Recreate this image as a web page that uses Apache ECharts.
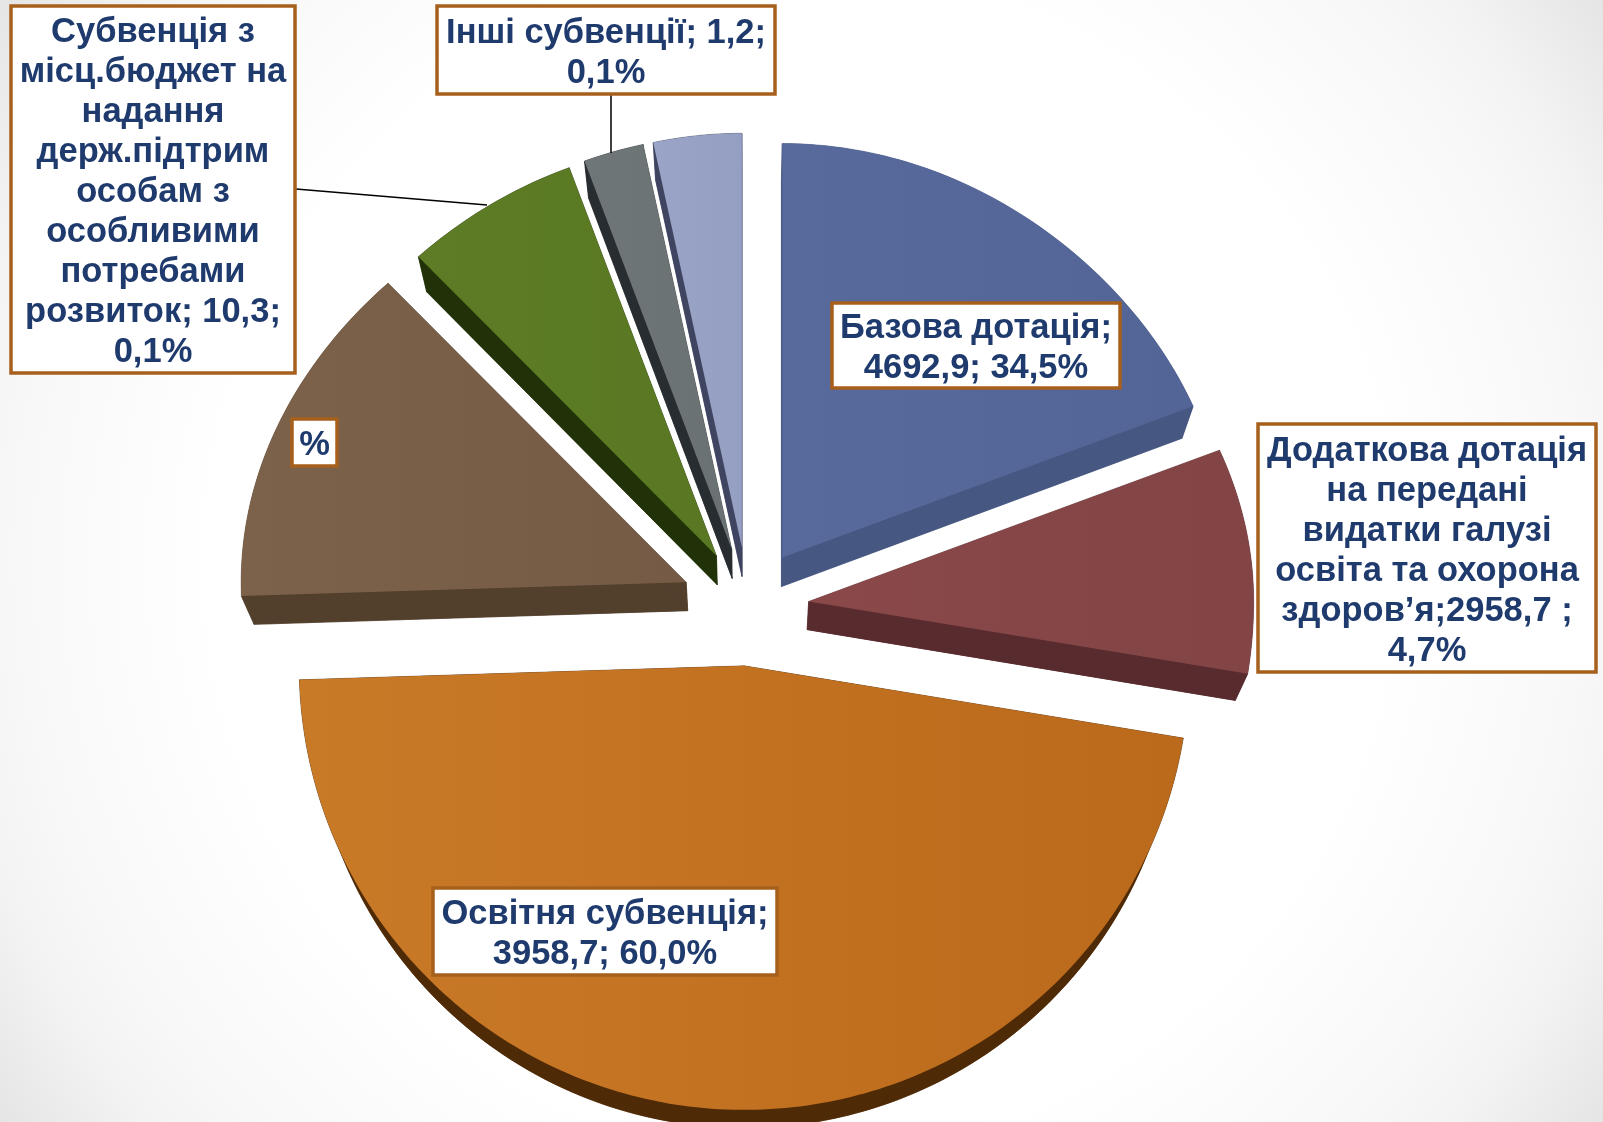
<!DOCTYPE html>
<html>
<head>
<meta charset="utf-8">
<title>Chart</title>
<style>
html, body { margin: 0; padding: 0; background: #fff; }
#chart { width: 1603px; height: 1122px; }
</style>
<script src="https://cdn.jsdelivr.net/npm/echarts@6/dist/echarts.min.js"></script>
</head>
<body>
<div id="chart"></div>
<script>
// slice sizes as drawn in the picture (they do not agree with the printed percents)
// the brown slice only has a "%" label and the light blue one has none
var categories = ['Базова дотація', 'Додаткова дотація', 'Освітня субвенція', '%', 'Субвенція з місц.бюджет', 'Інші субвенції', ''];
var sliceValues = [19.0, 8.6, 46.9, 13.6, 6.5, 2.2, 3.2];

var labelTexts = [
    'Субвенція з\nмісц.бюджет на\nнадання\nдерж.підтрим\nособам з\nособливими\nпотребами\nрозвиток; 10,3;\n0,1%',
    'Інші субвенції; 1,2;\n0,1%',
    'Базова дотація;\n4692,9; 34,5%',
    'Додаткова дотація\nна передані\nвидатки галузі\nосвіта та охорона\nздоров’я;2958,7 ;\n4,7%',
    'Освітня субвенція;\n3958,7; 60,0%',
    '%'
];

// layout, kept apart from the values
var labelBoxes = [
    [11, 6, 284, 367],
    [437, 6, 338, 88],
    [832, 303, 288, 85],
    [1258, 424, 338, 248],
    [433, 888, 344, 87],
    [292, 419, 45, 47]
];
var leaderLines = [
    [296, 189, 487, 205],
    [611, 95, 611, 153]
];
var topColors = [
    ['#586A9C', '#536496'], ['#8A4849', '#824445'], ['#C97A27', '#BB691B'], ['#7C624A', '#755B45'],
    ['#5D7C25', '#5A7823'], ['#6F7678', '#6A7173'], ['#9AA4C7', '#959FC2']
];
var sideColors = ['#465781', '#582B2E', '#4F2A07', '#523F2C', '#223208', '#282D31', '#3F4560'];

var pieX = 748, pieY = 608;      // point the slices are pulled away from
var explode = [61, 61, 58, 67, 61, 61, 61];
var rx = 445, ryUp = 414, ryDown = 444;
var depth = 28;

function rimPoint(t, ax, ay) {
    var c = Math.cos(t), s = Math.sin(t);
    // the far half of the rim is a little flatter than an ellipse
    var f = c > 0 ? 1 - 0.015 * Math.pow(Math.sin(2 * t), 2) : 1;
    return [ax + f * rx * s, ay - f * (c > 0 ? ryUp : ryDown) * c];
}

// pie bottom face: a bit smaller and lower, the picture has some perspective
function lower(p) {
    return [p[0] + 0.025 * (pieX - p[0]), p[1] + depth + 0.02 * (pieY - p[1])];
}

function renderSlice(params, api) {
    var i = params.dataIndex;
    var total = sliceValues.reduce(function (a, b) { return a + b; }, 0);
    var before = 0;
    for (var k = 0; k < i; k++) before += sliceValues[k];
    var t0 = before / total * Math.PI * 2;
    var t1 = (before + api.value(0)) / total * Math.PI * 2;
    var mid = (t0 + t1) / 2;
    var ax = pieX + explode[i] * Math.sin(mid);
    var ay = pieY - explode[i] * Math.cos(mid);

    var arc = [];
    var steps = Math.max(8, Math.round((t1 - t0) * 60));
    for (var s = 0; s <= steps; s++) {
        arc.push(rimPoint(t0 + (t1 - t0) * s / steps, ax, ay));
    }
    var apex = [ax, ay];
    var top = [apex].concat(arc);
    var bottom = top.map(lower);
    var arcLow = arc.map(lower).reverse();
    var apexLow = lower(apex);
    var side = { fill: sideColors[i], stroke: sideColors[i], lineWidth: 0.5 };

    var first = arc[0], last = arc[arc.length - 1];
    return {
        type: 'group',
        children: [
            { type: 'polygon', shape: { points: bottom }, style: side },
            { type: 'polygon', shape: { points: arc.concat(arcLow) }, style: side },
            { type: 'polygon', shape: { points: [apex, first, lower(first), apexLow] }, style: side },
            { type: 'polygon', shape: { points: [apex, last, lower(last), apexLow] }, style: side },
            {
                type: 'polygon',
                shape: { points: top },
                style: {
                    fill: new echarts.graphic.LinearGradient(0, 0, 1, 0, [
                        { offset: 0, color: topColors[i][0] },
                        { offset: 1, color: topColors[i][1] }
                    ])
                }
            }
        ]
    };
}

var elements = [];
leaderLines.forEach(function (l) {
    elements.push({
        type: 'line',
        z: 10,
        shape: { x1: l[0], y1: l[1], x2: l[2], y2: l[3] },
        style: { stroke: '#000', lineWidth: 1.5 }
    });
});
labelBoxes.forEach(function (b, i) {
    elements.push({
        type: 'rect',
        z: 11,
        shape: { x: b[0], y: b[1], width: b[2], height: b[3] },
        style: { fill: '#fff', stroke: '#A6601C', lineWidth: 3.5 }
    });
    elements.push({
        type: 'text',
        z: 12,
        style: {
            text: labelTexts[i],
            x: b[0] + b[2] / 2,
            y: b[1] + b[3] / 2 + 3,
            align: 'center',
            verticalAlign: 'middle',
            font: 'bold 34.5px "Liberation Sans", Arial, sans-serif',
            lineHeight: 40,
            fill: '#1F3A6D'
        }
    });
});

var chart = echarts.init(document.getElementById('chart'));
chart.setOption({
    animation: false,
    backgroundColor: new echarts.graphic.RadialGradient(801, 561, 977, [
        { offset: 0, color: '#ffffff' },
        { offset: 0.6, color: '#ffffff' },
        { offset: 0.8, color: '#F8F8F8' },
        { offset: 0.88, color: '#F3F3F3' },
        { offset: 1, color: '#E5E5E5' }
    ], true),
    graphic: { elements: elements },
    series: [
        {
            type: 'custom',
            coordinateSystem: 'none',
            renderItem: renderSlice,
            data: sliceValues.map(function (v, i) {
                return { name: categories[i], value: [v] };
            })
        }
    ]
});
</script>
</body>
</html>
